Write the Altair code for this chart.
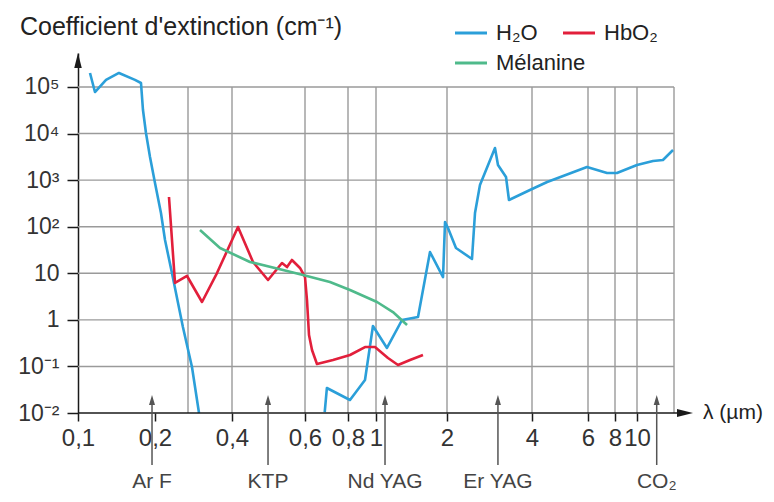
import altair as alt
import pandas as pd

# ---------------- data ----------------
H2O_UV_WL = [0.1114, 0.1165, 0.1287, 0.1446, 0.167, 0.1763, 0.1795, 0.1844, 0.1912, 0.2,
             0.2152, 0.2262, 0.2463, 0.2818, 0.3079, 0.3224]
H2O_UV_K = [2.0e5, 7.8e4, 1.42e5, 2.0e5, 1.42e5, 1.22e5, 3.2e4, 1.03e4, 3140, 869,
            197, 51.9, 10.1, 0.703, 0.0973, 0.01]

H2O_IR_WL = [0.6846, 0.6946, 0.8127, 0.916, 0.976, 1.113, 1.289, 1.507, 1.694, 1.924,
             1.962, 2.016, 2.152, 2.452, 2.513, 2.617, 2.958, 3.031, 3.236, 3.315,
             3.934, 4.464, 5.956, 7.35, 8.16, 10.0, 11.2, 12.02, 12.91]
H2O_IR_K = [0.0105, 0.0344, 0.019, 0.0512, 0.738, 0.249, 0.993, 1.15, 28.6, 8.3,
            126, 93.8, 34.9, 20.3, 197, 787, 4900, 2115, 1169, 375,
            614, 912, 1916, 1425, 1425, 2115, 2578, 2710, 4440]

HBO2_WL = [0.2375, 0.2557, 0.2964, 0.3288, 0.3626, 0.4135, 0.4495, 0.4886, 0.528, 0.543,
           0.558, 0.5835, 0.6, 0.608, 0.6163, 0.6288, 0.65, 0.7236, 0.8128, 0.916,
           0.992, 1.124, 1.24, 1.394, 1.582]
HBO2_K = [435, 6.19, 8.75, 2.42, 10.1, 98.6, 17.5, 7.18, 16.6, 13.6,
          19.3, 13.0, 8.32, 2.67, 0.473, 0.2254, 0.1127, 0.1374, 0.176, 0.261,
          0.261, 0.152, 0.1074, 0.1374, 0.176]

MEL_WL = [0.3245, 0.3698, 0.442, 0.531, 0.5934, 0.709, 0.813, 1.01, 1.18, 1.354]
MEL_K = [85.1, 34.9, 17.5, 11.8, 9.19, 6.5, 4.38, 2.42, 1.47, 0.776]

SERIES = ["H₂O", "HbO₂", "Mélanine"]
COLORS = ["#2b9fd9", "#e21f3b", "#4fba8b"]

LASER_NAMES = ["Ar F", "KTP", "Nd YAG", "Er YAG", "CO₂"]
LASER_WL = [0.1947, 0.4886, 1.092, 3.03, 11.5]

X_TICKS = [0.1, 0.2, 0.4, 0.6, 0.8, 1, 2, 4, 6, 8, 10]
X_GRID = [0.3, 0.4, 0.6, 0.8, 1, 2, 4, 6, 8, 10, 13]
Y_TICKS = [0.01, 0.1, 1, 10, 100, 1000, 10000, 100000]
Y_TICK_LABELS = ["10⁻²", "10⁻¹", "1", "10", "10²", "10³", "10⁴", "10⁵"]
Y_GRID = [0.1, 1, 10, 100, 1000, 10000, 100000]

TITLE = "Coefficient d'extinction (cm⁻¹)"
X_LABEL = "λ (µm)"

# ---------------- layout / styles ----------------
W, H = 596, 360
FONT = "Liberation Sans, Arial, sans-serif"
GRID_C = "#9a9a9a"
AX_C = "#1a1a1a"
TXT_C = "#333333"

# schematic (non-uniform) wavelength axis of the original drawing
X_STOPS = [0.1, 0.2, 0.3, 0.4, 0.6, 0.8, 1, 2, 4, 6, 8, 10, 13]
X_PX = [0, 77, 110, 154, 227, 270, 298, 369, 454, 510, 537, 559, 596]
xscale = alt.Scale(type="log", domain=X_STOPS, range=X_PX, nice=False, zero=False)
yscale = alt.Scale(type="log", domain=[0.01, 537000], nice=False, zero=False)

curves = pd.concat([
    pd.DataFrame({"wl": H2O_UV_WL, "k": H2O_UV_K, "series": SERIES[0], "part": "h1"}),
    pd.DataFrame({"wl": H2O_IR_WL, "k": H2O_IR_K, "series": SERIES[0], "part": "h2"}),
    pd.DataFrame({"wl": HBO2_WL, "k": HBO2_K, "series": SERIES[1], "part": "r"}),
    pd.DataFrame({"wl": MEL_WL, "k": MEL_K, "series": SERIES[2], "part": "m"}),
], ignore_index=True)

ylab_expr = ""
for v, lab in zip(Y_TICKS, Y_TICK_LABELS):
    ylab_expr += f"datum.value == {v} ? '{lab}' : "
ylab_expr += "''"

X_AXIS = alt.Axis(
    values=X_TICKS, labelExpr="replace(toString(datum.value), '.', ',')",
    domain=False, grid=False, tickSize=8, tickColor=AX_C, tickWidth=1.5,
    labelFont=FONT, labelFontSize=24, labelColor=TXT_C, labelPadding=5,
    labelOverlap=False, labelFlush=False, labelBound=False, title=None)
Y_AXIS = alt.Axis(
    values=Y_TICKS, labelExpr=ylab_expr,
    domain=True, domainColor=AX_C, domainWidth=1.5, grid=False,
    tickSize=11, tickColor=AX_C, tickWidth=1.5,
    labelFont=FONT, labelFontSize=23, labelColor=TXT_C, labelPadding=8,
    labelOverlap=False, labelFlush=False, labelBound=False, title=None)

hgrid = alt.Chart(pd.DataFrame({"k": Y_GRID})).mark_rule(color=GRID_C, strokeWidth=1.4).encode(
    y=alt.Y("k:Q", scale=yscale, axis=Y_AXIS),
    x=alt.value(0), x2=alt.value(W),
)
vgrid = alt.Chart(pd.DataFrame({"wl": X_GRID, "lo": 0.01, "hi": 1e5})).mark_rule(
    color=GRID_C, strokeWidth=1.4).encode(
    x=alt.X("wl:Q", scale=xscale, axis=X_AXIS),
    y=alt.Y("lo:Q", scale=yscale, axis=Y_AXIS),
    y2="hi:Q",
)

lines = alt.Chart(curves).mark_line(strokeWidth=2.6, strokeJoin="round").encode(
    x=alt.X("wl:Q", scale=xscale, axis=X_AXIS),
    y=alt.Y("k:Q", scale=yscale, axis=Y_AXIS),
    color=alt.Color("series:N", scale=alt.Scale(domain=SERIES, range=COLORS), legend=None),
    detail="part:N",
)

one = pd.DataFrame({"a": [0]})
x_axis_line = alt.Chart(one).mark_rule(color=AX_C, strokeWidth=1.5).encode(
    x=alt.value(0), x2=alt.value(607), y=alt.value(H))
x_arrow = alt.Chart(one).mark_point(shape="M1,0L-1,0.5L-1,-0.5Z", filled=True, size=256,
                                    color=AX_C, opacity=1).encode(
    x=alt.value(607), y=alt.value(H))
y_arrow = alt.Chart(one).mark_point(shape="M0,-1L0.5,1L-0.5,1Z", filled=True, size=225,
                                    color=AX_C, opacity=1).encode(
    x=alt.value(0), y=alt.value(7.5))

lasers = pd.DataFrame({"wl": LASER_WL, "name": LASER_NAMES})
laser_rule = alt.Chart(lasers).mark_rule(color="#555555", strokeWidth=1.5, clip=False).encode(
    x=alt.X("wl:Q", scale=xscale, axis=X_AXIS), y=alt.value(349), y2=alt.value(412))
laser_head = alt.Chart(lasers).mark_point(shape="M0,-1L0.6,1L-0.6,1Z", filled=True, size=100,
                                          color="#555555", opacity=1, clip=False).encode(
    x=alt.X("wl:Q", scale=xscale, axis=X_AXIS), y=alt.value(347))
laser_text = alt.Chart(lasers).mark_text(font=FONT, fontSize=21, color="#444444",
                                         baseline="alphabetic", align="center", clip=False).encode(
    x=alt.X("wl:Q", scale=xscale, axis=X_AXIS), y=alt.value(435), text="name:N")

title = alt.Chart(pd.DataFrame({"t": [TITLE]})).mark_text(
    font=FONT, fontSize=25, color="#222222", align="left", baseline="middle").encode(
    x=alt.value(-58), y=alt.value(-26), text="t:N")
xlab = alt.Chart(pd.DataFrame({"t": [X_LABEL]})).mark_text(
    font=FONT, fontSize=21, color="#222222", align="left", baseline="middle").encode(
    x=alt.value(625), y=alt.value(H), text="t:N")

legend_layers = []
LEG_POS = [(377, -20), (485, -20), (377, 10)]
for (lx, ly), name, col in zip(LEG_POS, SERIES, COLORS):
    d = pd.DataFrame({"t": [name]})
    legend_layers.append(alt.Chart(d).mark_rule(color=col, strokeWidth=3).encode(
        x=alt.value(lx), x2=alt.value(lx + 32), y=alt.value(ly)))
    legend_layers.append(alt.Chart(d).mark_text(
        font=FONT, fontSize=22, color="#222222", align="left", baseline="middle").encode(
        x=alt.value(lx + 41), y=alt.value(ly), text="t:N"))

chart = alt.layer(
    hgrid, vgrid, lines, x_axis_line, x_arrow, y_arrow,
    laser_rule, laser_head, laser_text, title, xlab, *legend_layers
).properties(
    width=W, height=H,
    autosize=alt.AutoSizeParams(type="none"),
    padding={"left": 70, "top": 45, "right": 92, "bottom": 81},
).configure_view(stroke=None)

chart.save("out.html", embed_options={"renderer": "svg", "actions": False})
